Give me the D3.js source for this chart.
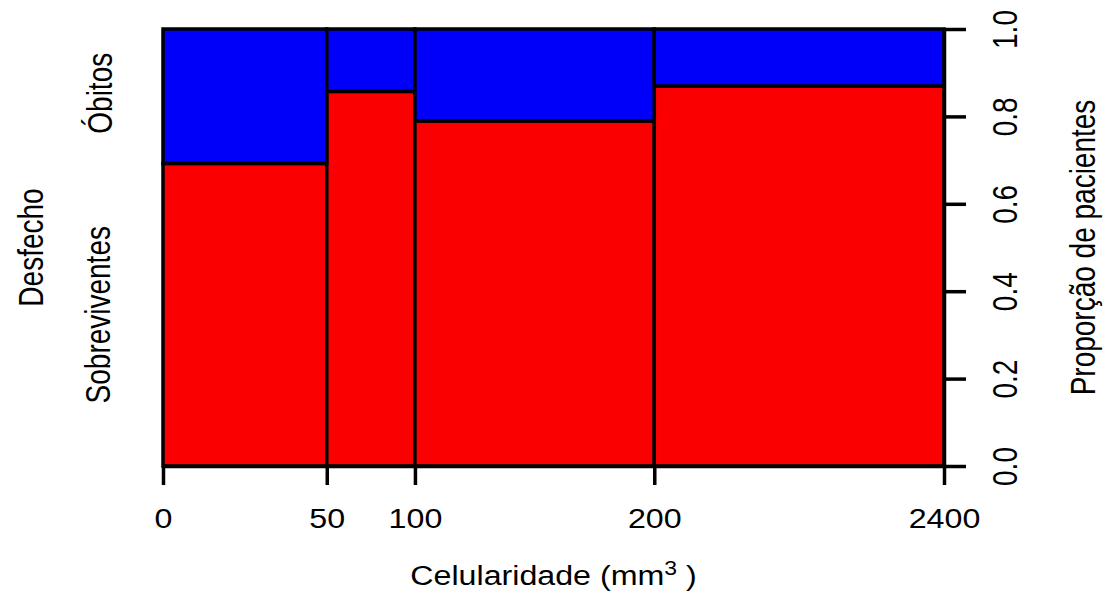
<!DOCTYPE html>
<html>
<head>
<meta charset="utf-8">
<script src="https://cdn.jsdelivr.net/npm/d3@7"></script>
<style>
  body { margin: 0; background: #fff; }
  text { font-family: "Liberation Sans", Arial, sans-serif; fill: #000; }
</style>
</head>
<body>
<div id="chart"></div>
<script>
// spineplot: Celularidade (mm3) vs Desfecho
const breakLabels = ["0", "50", "100", "200", "2400"];
const survivors = [9, 6, 15, 20];   // Sobreviventes per bin
const deaths = [4, 1, 4, 3];        // Óbitos per bin
const outcomeLabels = ["Sobreviventes", "Óbitos"];
const yTicks = [0, 0.2, 0.4, 0.6, 0.8, 1.0];

const W = 1110, H = 597;
const stretch = 1.15;  // horizontal text is a bit wider than tall
const vstretch = 1.25; // rotated text is thicker across

const svg = d3.select("#chart").append("svg")
  .attr("width", W).attr("height", H);

// bins as cumulative counts along x
const totals = survivors.map((s, i) => s + deaths[i]);
const N = d3.sum(totals);
let acc = 0;
const bins = totals.map((t, i) => {
  const b = { x0: acc, x1: acc + t, pSurv: survivors[i] / t };
  acc += t;
  return b;
});
const cum = [0].concat(bins.map(b => b.x1));

const x = d3.scaleLinear().domain([0, N]).range([163, 944]);
const y = d3.scaleLinear().domain([0, 1]).range([466, 29]);

const g = svg.append("g");

// red part (survivors)
g.selectAll("rect.surv").data(bins).enter().append("rect")
  .attr("class", "surv")
  .attr("x", d => x(d.x0)).attr("width", d => x(d.x1) - x(d.x0))
  .attr("y", d => y(d.pSurv)).attr("height", d => y(0) - y(d.pSurv))
  .attr("fill", "#fa0000").attr("stroke", "#000").attr("stroke-width", 3.5);

// blue part (deaths)
g.selectAll("rect.dead").data(bins).enter().append("rect")
  .attr("class", "dead")
  .attr("x", d => x(d.x0)).attr("width", d => x(d.x1) - x(d.x0))
  .attr("y", y(1)).attr("height", d => y(d.pSurv) - y(1))
  .attr("fill", "#0000fa").attr("stroke", "#000").attr("stroke-width", 3.5);

// bottom axis
const xAxis = svg.append("g")
  .attr("transform", `translate(0,${y(0)})`)
  .call(d3.axisBottom(x).tickValues(cum).tickFormat((d, i) => breakLabels[i])
    .tickSize(19).tickSizeOuter(0));
xAxis.selectAll("path, line").attr("stroke", "#000").attr("stroke-width", 3.5);
xAxis.selectAll("text")
  .attr("y", 0).attr("dy", null)
  .attr("transform", `translate(0,62) scale(${stretch},1)`)
  .style("font-size", "28px");

// right axis
const yAxis = svg.append("g")
  .attr("transform", `translate(${x(N)},0)`)
  .call(d3.axisRight(y).tickValues(yTicks).tickFormat(d3.format(".1f"))
    .tickSize(22).tickSizeOuter(0));
yAxis.selectAll("path, line").attr("stroke", "#000").attr("stroke-width", 3.5);
yAxis.selectAll("text")
  .attr("x", 0).attr("dy", null)
  .attr("text-anchor", "middle")
  .attr("transform", `translate(73,0) scale(${vstretch},1) rotate(-90)`)
  .style("font-size", "28px");

// rotated text helper
function vtext(bx, cy, label) {
  svg.append("text")
    .attr("text-anchor", "middle")
    .attr("transform", `translate(${bx},${cy}) scale(${vstretch},1) rotate(-90)`)
    .style("font-size", "28px")
    .text(label);
}

// category labels at the first bar
const p1 = bins[0].pSurv;
vtext(110, y(p1 / 2), outcomeLabels[0]);
vtext(112, y((1 + p1) / 2) - 3, outcomeLabels[1]);

// axis titles
vtext(43, (y(0) + y(1)) / 2, "Desfecho");
vtext(1095, (y(0) + y(1)) / 2, "Proporção de pacientes");

const xt = svg.append("text")
  .attr("text-anchor", "middle")
  .attr("transform", `translate(${(x(0) + x(N)) / 2},585) scale(${stretch},1)`)
  .style("font-size", "28px");
xt.append("tspan").text("Celularidade (mm");
xt.append("tspan").attr("dy", -10).style("font-size", "20px").text("3");
xt.append("tspan").attr("dy", 10).text(" )");
</script>
</body>
</html>
